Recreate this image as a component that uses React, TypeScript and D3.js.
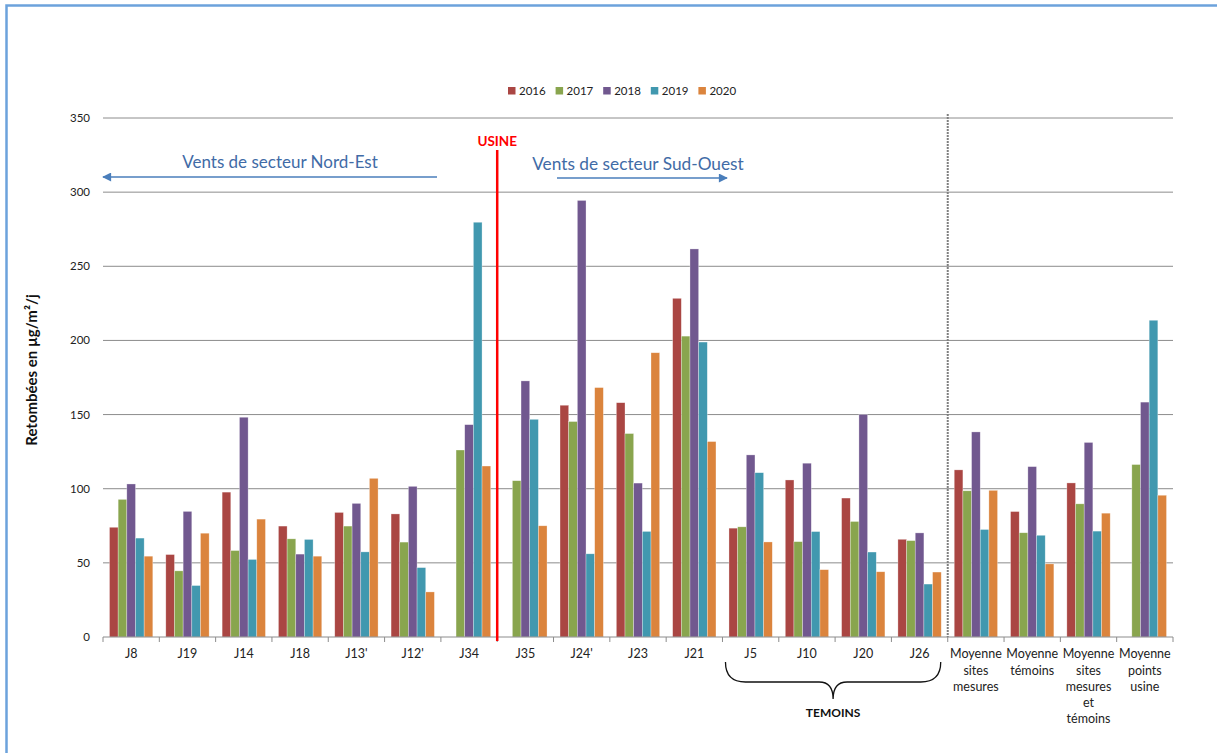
import React from "react";
import * as d3 from "d3";

const categories: string[][] = [
  ["J8"], ["J19"], ["J14"], ["J18"], ["J13'"], ["J12'"], ["J34"], ["J35"], ["J24'"], ["J23"], ["J21"],
  ["J5"], ["J10"], ["J20"], ["J26"],
  ["Moyenne", "sites", "mesures"],
  ["Moyenne", "témoins"],
  ["Moyenne", "sites", "mesures", "et", "témoins"],
  ["Moyenne", "points", "usine"],
];

const years = ["2016", "2017", "2018", "2019", "2020"];
const colors = ["#AA4643", "#89A54E", "#71588F", "#4198AF", "#DB843D"];

const v2016: (number | null)[] = [74, 55.6, 97.7, 74.8, 84, 83, null, null, 156.3, 158, 228.4, 73.4, 105.9, 93.7, 65.9, 112.7, 84.6, 103.9, null];
const v2017: (number | null)[] = [92.8, 44.6, 58.3, 66.2, 74.8, 64, 126.1, 105.4, 145.3, 137.2, 202.9, 74.3, 64.3, 77.9, 65, 98.6, 70.3, 89.8, 116.3];
const v2018: (number | null)[] = [103.2, 84.7, 148.2, 55.9, 90.1, 101.6, 143.2, 172.7, 294.4, 103.8, 261.7, 122.8, 117.2, 150.1, 70.2, 138.3, 114.9, 131.2, 158.4];
const v2019: (number | null)[] = [66.7, 34.7, 52.3, 65.8, 57.4, 46.8, 279.7, 146.8, 56.1, 71.2, 198.9, 110.8, 71.1, 57.3, 35.7, 72.5, 68.6, 71.4, 213.6];
const v2020: (number | null)[] = [54.5, 70, 79.5, 54.5, 107, 30.4, 115.3, 75, 168.2, 191.7, 131.8, 64.1, 45.4, 44, 43.8, 98.9, 49.3, 83.5, 95.6];
const series = [v2016, v2017, v2018, v2019, v2020];

const yTicks = [0, 50, 100, 150, 200, 250, 300, 350];

const W = 1217, H = 753;
const L = 103, R = 1173, T = 118, B = 637;
const FONT = "Lato, 'Open Sans', sans-serif";

export default function App() {
  const keys = categories.map((c) => c.join(" "));
  const x0 = d3.scaleBand<string>().domain(keys).range([L, R]).padding(0);
  const x1 = d3.scaleBand<string>().domain(years).range([0, x0.bandwidth()]).paddingInner(0).paddingOuter(0.75);
  const y = d3.scaleLinear().domain([0, 350]).range([B, T]);
  const step = x0.step();
  const boundary = (i: number) => L + i * step;
  const usineX = boundary(7);
  const dotX = boundary(15);
  const braceL = boundary(11) + 3;
  const braceR = boundary(15) - 7;
  const braceC = (braceL + braceR) / 2;
  const braceY = 682;

  return (
    <svg width={W} height={H} style={{ position: "absolute", left: 0, top: 0, background: "#fff" }} fontFamily={FONT}>
      <defs>
        <marker id="ah" viewBox="0 0 10 10" refX="9" refY="5" markerWidth="10" markerHeight="9" markerUnits="userSpaceOnUse" orient="auto-start-reverse">
          <path d="M0,0 L10,5 L0,10 z" fill="#4A7EBB" />
        </marker>
      </defs>
      {/* frame */}
      <path d={`M6.5,${H + 5} L6.5,5.5 L${W + 5},5.5`} fill="none" stroke="#6CA2DC" strokeWidth={2.5} />

      {/* gridlines */}
      {yTicks.map((t) => (
        <g key={t}>
          {t > 0 && <line x1={L} x2={R} y1={y(t)} y2={y(t)} stroke="#8C8C8C" strokeWidth={1} />}
          <text x={90} y={y(t)} dy="0.35em" textAnchor="end" fontSize={11.5} fill="#222">{t}</text>
        </g>
      ))}

      {/* bars */}
      {keys.map((k, i) => (
        <g key={k} transform={`translate(${x0(k)},0)`}>
          {series.map((s, j) => {
            const v = s[i];
            if (v == null) return null;
            return (
              <rect key={j} x={x1(years[j])} y={y(v)} width={x1.bandwidth()} height={B - y(v)} fill={colors[j]} stroke="#fff" strokeOpacity={0.5} strokeWidth={0.6} />
            );
          })}
        </g>
      ))}

      {/* x axis */}
      <line x1={L} x2={R} y1={B} y2={B} stroke="#8C8C8C" strokeWidth={1} />
      {d3.range(categories.length + 1).map((i) => (
        <line key={i} x1={boundary(i)} x2={boundary(i)} y1={B} y2={B + 5} stroke="#8C8C8C" strokeWidth={1} />
      ))}
      {categories.map((c, i) => (
        <text key={i} x={(x0(keys[i]) as number) + step / 2} y={654} textAnchor="middle" fontSize={12.5} fill="#222">
          {c.map((line, li) => (
            <tspan key={li} x={(x0(keys[i]) as number) + step / 2} y={654 + li * 16.2} dy="0.35em">{line}</tspan>
          ))}
        </text>
      ))}

      {/* y title */}
      <text transform="translate(32,370) rotate(-90)" textAnchor="middle" dy="0.35em" fontSize={15} fontWeight="bold" fill="#111">Retombées en µg/m²/j</text>

      {/* legend */}
      {years.map((yr, j) => {
        const lx = 508 + j * 47.6;
        return (
          <g key={yr}>
            <rect x={lx} y={87} width={7.5} height={7.5} fill={colors[j]} />
            <text x={lx + 11} y={91} dy="0.35em" fontSize={11.5} fill="#222">{yr}</text>
          </g>
        );
      })}

      {/* usine */}
      <line x1={usineX} x2={usineX} y1={150} y2={641} stroke="#FF0000" strokeWidth={2.5} />
      <text x={usineX} y={146} textAnchor="middle" fontSize={13.5} fontWeight="bold" fill="#FF0000">USINE</text>

      {/* dotted separator */}
      <line x1={dotX} x2={dotX} y1={114} y2={B} stroke="#7F7F7F" strokeWidth={2} strokeDasharray="2,1" />

      {/* wind annotations */}
      <text x={280} y={168} textAnchor="middle" fontSize={17} fill="#416BA6">Vents de secteur Nord-Est</text>
      <line x1={437} x2={103} y1={177} y2={177} stroke="#4A7EBB" strokeWidth={1.3} markerEnd="url(#ah)" />
      <text x={638} y={170} textAnchor="middle" fontSize={17.3} fill="#416BA6">Vents de secteur Sud-Ouest</text>
      <line x1={557} x2={727} y1={178} y2={178} stroke="#4A7EBB" strokeWidth={1.3} markerEnd="url(#ah)" />

      {/* brace */}
      <path
        d={`M${braceL},662 Q${braceL},${braceY} ${braceL + 20},${braceY} L${braceC - 14},${braceY} Q${braceC},${braceY} ${braceC},${braceY + 17} Q${braceC},${braceY} ${braceC + 14},${braceY} L${braceR - 20},${braceY} Q${braceR},${braceY} ${braceR},662`}
        fill="none" stroke="#111" strokeWidth={1.3}
      />
      <text x={braceC} y={713} dy="0.35em" textAnchor="middle" fontSize={12} fontWeight="bold" fill="#111">TEMOINS</text>
    </svg>
  );
}
